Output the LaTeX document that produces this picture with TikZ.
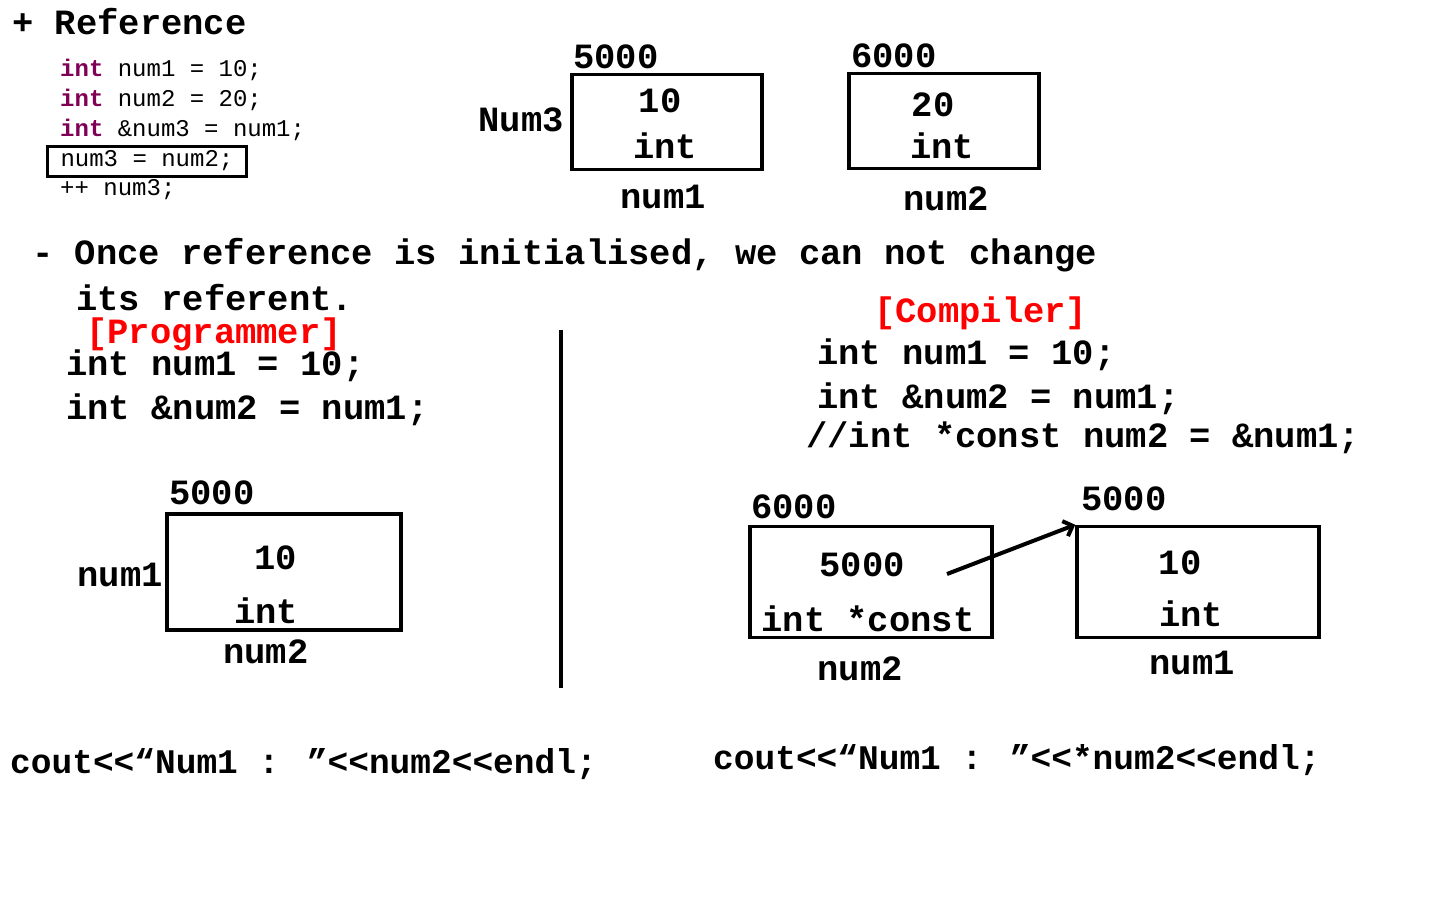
\documentclass[tikz,border=0pt]{standalone}
\usepackage{fontspec}
\setmainfont{Liberation Mono}
\usetikzlibrary{arrows.meta}
\definecolor{kwpurple}{RGB}{127,0,85}
\definecolor{tagred}{RGB}{255,0,0}
\tikzset{
  big/.style={font=\fontsize{35.5}{40}\selectfont\bfseries, inner sep=0pt},
  small/.style={font=\fontsize{24}{28}\selectfont, inner sep=0pt},
  cell/.style={draw, line width=3.5pt, inner sep=0pt},
}
\newcommand{\kw}[1]{\textcolor{kwpurple}{\textbf{#1}}}

\begin{document}
\begin{tikzpicture}[x=1pt, y=-1pt]
    \useasboundingbox (0,0) rectangle (1440,900);

    % --- CODICE IN ALTO ---
    \node[big, anchor=west] (title) at (12,22) {+ Reference};
    \node[small, anchor=west] (codeA) at (60,70) {\kw{int} num1 = 10;};
    \node[small, anchor=west] (codeB) at (60,100) {\kw{int} num2 = 20;};
    \node[small, anchor=west] (codeC) at (60,130) {\kw{int} \&num3 = num1;};
    \node[small, anchor=west, draw, line width=3pt, inner xsep=13pt, minimum height=30pt] (codeD) at (46,161) {num3 = num2;};
    \node[small, anchor=west] (codeE) at (60,190) {++ num3;};

    % --- CELLE num1 e num2 ---
    \node[cell, minimum width=190pt, minimum height=95pt] (topA) at (667,122) {};
    \node[big, anchor=west] at (573,57) {5000};
    \node[big, anchor=east] at (564,120) {Num3};
    \node[big] at (660,101) {10};
    \node[big] at (665,146) {int};
    \node[big] at (663,197) {num1};

    \node[cell, minimum width=190pt, minimum height=95pt] (topB) at (944,121) {};
    \node[big, anchor=west] at (851,56) {6000};
    \node[big] at (933,105) {20};
    \node[big] at (942,146) {int};
    \node[big] at (946,199) {num2};

    % --- TESTO ---
    \node[big, anchor=west] (rule) at (32,255) {- Once reference is initialised, we can not change};
    \node[big, anchor=west] (ruleB) at (76,298) {its referent.};

    % Programmer (sinistra)
    \node[big, anchor=west, text=tagred] (prog) at (86,334) {[Programmer]};
    \node[big, anchor=west] (progA) at (66,366) {int num1 = 10;};
    \node[big, anchor=west] (progB) at (66,410) {int \&num2 = num1;};

    \draw[line width=3.5pt] (561,330) -- (561,688);

    \node[cell, minimum width=234pt, minimum height=116pt] (left) at (284,572) {};
    \node[big, anchor=west] at (169,493) {5000};
    \node[big, anchor=east] at (163,575) {num1};
    \node[big] at (276,558) {10};
    \node[big] at (266,611) {int};
    \node[big] at (266,652) {num2};

    % Compiler (destra)
    \node[big, anchor=west, text=tagred] (comp) at (874,313) {[Compiler]};
    \node[big, anchor=west] (compA) at (817,355) {int num1 = 10;};
    \node[big, anchor=west] (compB) at (817,399) {int \&num2 = num1;};
    \node[big, anchor=west] (compC) at (806,438) {//int *const num2 = \&num1;};

    \node[cell, minimum width=242pt, minimum height=111pt] (ptrbox) at (871,582) {};
    \node[big, anchor=west] at (751,507) {6000};
    \node[big] at (862,565) {5000};
    \node[big] at (868,619) {int *const};
    \node[big] at (860,669) {num2};

    \node[cell, minimum width=242pt, minimum height=111pt] (valbox) at (1198,582) {};
    \node[big, anchor=west] at (1081,499) {5000};
    \node[big] at (1180,563) {10};
    \node[big] at (1191,614) {int};
    \node[big] at (1192,663) {num1};

    % freccia del puntatore
    \coordinate (ptr) at (947,574);
    \draw[line width=4pt, -{Straight Barb[length=8pt, width=16pt]}] (ptr) -- (valbox.north west);

    % --- cout ---
    \node[big, anchor=west, font=\fontsize{34.5}{40}\selectfont\bfseries] (coutA) at (10,764) {cout<{}<“Num1 : ”<{}<num2<{}<endl;};
    \node[big, anchor=west, font=\fontsize{34.5}{40}\selectfont\bfseries] (coutB) at (713,760) {cout<{}<“Num1 : ”<{}<*num2<{}<endl;};

\end{tikzpicture}
\end{document}
